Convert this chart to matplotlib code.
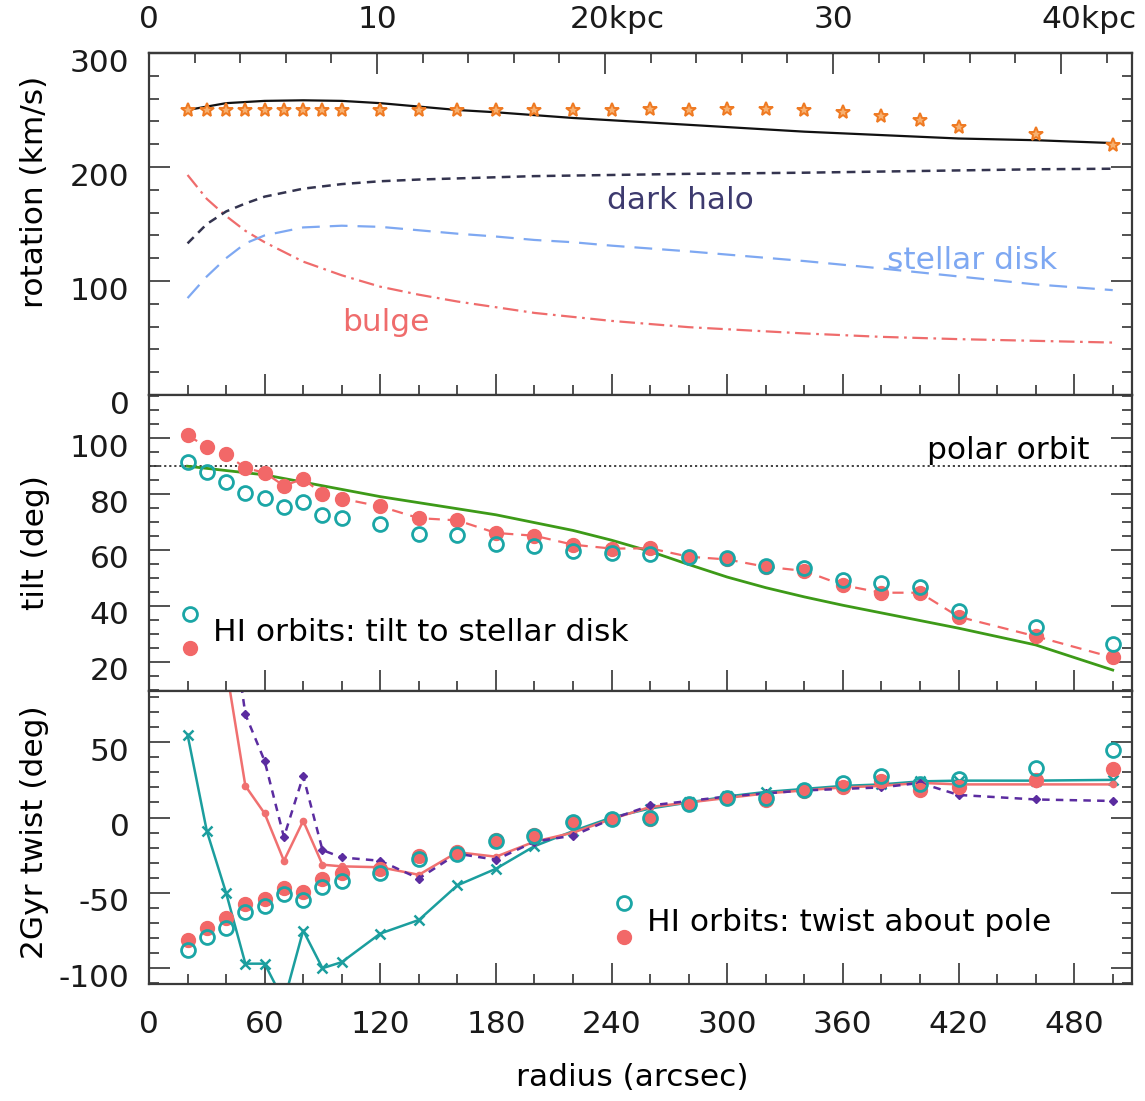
import numpy as np
import matplotlib
matplotlib.use('Agg')
import matplotlib.pyplot as plt
from matplotlib.ticker import MultipleLocator, FixedLocator, NullFormatter
from matplotlib.transforms import ScaledTranslation
from matplotlib.legend_handler import HandlerBase
from matplotlib.lines import Line2D

plt.rcParams['font.family'] = ['DejaVu Sans']
plt.rcParams['font.size'] = 22.5
plt.rcParams['axes.unicode_minus'] = False

ARCSEC_PER_KPC = 11.83

# ---- rotation panel ----
r_pts = [20, 30, 40, 50, 60, 70, 80, 90, 100, 120, 140, 160, 180, 200, 220,
         240, 260, 280, 300, 320, 340, 360, 380, 400, 420, 460, 500]
v_obs = [250, 250, 250, 250, 250, 250, 250, 250, 250, 250, 250, 250, 250, 250, 250,
         250, 251, 250, 251, 251, 250, 248, 245, 241, 235, 229, 219]

r_model = [20, 30, 40, 50, 60, 80, 100, 120, 140, 160, 180, 200, 220, 240,
           280, 340, 380, 420, 460, 500]
v_total = [250, 253, 256, 257, 258, 258.5, 258, 256, 253, 250, 248, 245.5, 243, 241,
           237, 231, 228, 225, 223.5, 221]
v_halo = [133, 150, 161, 168, 174, 181, 185, 187.5, 189, 190, 191, 192, 192.5, 193,
          194, 195, 196, 197, 198, 198.5]
v_disk = [85, 104, 120, 133, 140, 147, 148.5, 147.5, 144.5, 141.5, 139, 136, 134, 131,
          126, 117.5, 111, 104, 97, 92]
v_bulge = [193, 172, 157, 144, 134, 117, 105, 95, 88, 82, 77, 72, 68.5, 65,
           59.5, 54, 51, 49, 47.5, 46]

# ---- tilt panel ----
tilt_red = [101, 97, 94.4, 89.3, 87.7, 83, 85.5, 80, 78.4, 75.6, 71.4, 70.6, 66.1, 65.1, 61.9,
            60.5, 60.6, 57.6, 56.6, 54, 52.5, 47.4, 44.7, 44.7, 36.1, 29.1, 21.5]
tilt_cyan = [91.6, 88.1, 84.5, 80.4, 78.6, 75.4, 77.1, 72.6, 71.4, 69.3, 65.8, 65.5, 62.3, 61.5, 59.5,
             58.8, 58.5, 57.6, 57, 54.3, 53.4, 49.2, 48, 46.8, 38.2, 32.5, 26.3]
r_tilt_model = [20, 60, 120, 180, 220, 240, 260, 280, 300, 320, 340, 360, 420, 460, 500]
tilt_model = [90, 86.9, 79.1, 72.6, 67, 63.5, 59.5, 54.8, 50.3, 46.5, 43.2, 40.2, 32, 26, 17]

# ---- twist panel ----
twist_cyan = [-88, -79.5, -73, -63, -58.5, -51, -55, -46, -42, -36.5, -27.5, -24, -15.5, -12, -3,
              -1, 0, 9, 13, 13, 18, 23, 27.5, 22, 25.5, 33, 45]
twist_red = [-81.5, -73, -67, -57.5, -54, -46.5, -49.5, -41, -36.5, -34, -25.5, -23, -15, -11.5, -3,
             -1, -1, 9, 13, 11.5, 17.5, 20, 24, 18, 20, 25, 32]
twist_x = [55, -9, -50, -97, -97, -122, -75, -100, -96, -77, -68, -45, -34, -19, -9,
           0, 6, 10, 14, 17, 19, 21, 22, 24, 24.5, 24.5, 25]
r_line = r_pts[2:]
twist_redline = [100, 21, 2.7, -28.7, -2.2, -31.3, -32.4, -33, -38, -23, -26, -16, -10,
                 -1, 7, 10, 13, 16, 18, 20, 21, 23, 22, 22, 22]
twist_purple = [160, 68.5, 37.5, -13, 27.6, -21.6, -26.5, -28.7, -40.5, -24, -28, -16, -12,
                -1, 8, 11, 14, 16, 18, 19, 20, 23, 15, 12, 11]

C_CYAN = '#1ba6a6'
C_RED = '#f26868'
C_ORANGE = '#ef7a22'


class StackedHandler(HandlerBase):
    # two markers one above the other, text in between
    def create_artists(self, legend, orig_handle, xdescent, ydescent,
                       width, height, fontsize, trans):
        top, bot = orig_handle
        yc = height / 2 - ydescent
        out = []
        for h, dy in ((top, 0.52 * fontsize), (bot, -0.55 * fontsize)):
            m = Line2D([width / 2 - xdescent], [yc + dy], ls='none',
                       marker=h.get_marker(), ms=h.get_markersize(),
                       mfc=h.get_markerfacecolor(), mec=h.get_markeredgecolor(),
                       mew=h.get_markeredgewidth())
            m.set_transform(trans)
            out.append(m)
        return out


W, H = 1145, 1101
def box(x0, y0, x1, y1):
    return [x0 / W, 1 - y1 / H, (x1 - x0) / W, (y1 - y0) / H]

fig = plt.figure(figsize=(11.45, 11.01), dpi=100)
ax1 = fig.add_axes(box(149, 53, 1132, 395))
ax2 = fig.add_axes(box(149, 395, 1132, 691))
ax3 = fig.add_axes(box(149, 691, 1132, 984))

for ax in (ax1, ax2, ax3):
    ax.set_xlim(0, 510)
    ax.xaxis.set_major_locator(MultipleLocator(60))
    ax.xaxis.set_minor_locator(MultipleLocator(20))
    ax.tick_params(which='both', direction='in', top=False, right=True,
                   width=1.2, color='#333333', labelcolor='#1a1a1a')
    ax.tick_params(which='major', length=15, pad=14)
    ax.tick_params(which='minor', length=7)
    for s in ax.spines.values():
        s.set_linewidth(1.6)
        s.set_color('#3a3a3a')
for ax in (ax1, ax2):
    ax.xaxis.set_major_formatter(NullFormatter())
ax3.tick_params(axis='x', which='major', pad=19)

# top panel
ax1.set_ylim(0, 300)
ax1.yaxis.set_major_locator(MultipleLocator(100))
ax1.yaxis.set_minor_locator(MultipleLocator(20))
ax1.plot(r_model, v_bulge, color='#ef6c6c', lw=1.6, ls=(0, (7, 2.5, 1.2, 2.5)))
ax1.plot(r_model, v_disk, color='#7ea8f2', lw=1.6, ls=(0, (8, 4.5)))
ax1.plot(r_model, v_halo, color='#34344f', lw=1.8, ls=(0, (3.5, 2.5)))
ax1.plot(r_model, v_total, color='#111111', lw=1.6)
ax1.plot(r_pts, v_obs, ls='none', marker='*', ms=10, mfc='#f7b070', mec=C_ORANGE, mew=1.4)
ax1.text(275.5, 171, 'dark halo', color='#3d3a6e', ha='center', va='center')
ax1.text(427, 118, 'stellar disk', color='#7ea8f2', ha='center', va='center')
ax1.text(123, 64, 'bulge', color='#ef6c6c', ha='center', va='center')

secax = ax1.secondary_xaxis('top', functions=(lambda r: np.asarray(r) / ARCSEC_PER_KPC,
                                              lambda k: np.asarray(k) * ARCSEC_PER_KPC))
secax.xaxis.set_major_locator(FixedLocator([0, 10, 20, 30, 40]))
secax.xaxis.set_minor_locator(MultipleLocator(2))
secax.set_xticklabels(['0', '10', '20kpc', '30', '40kpc'])
secax.tick_params(which='both', direction='in', width=1.2, color='#333333', labelcolor='#1a1a1a')
secax.tick_params(which='major', length=15, pad=14)
secax.tick_params(which='minor', length=7)
secax.spines['top'].set_linewidth(1.6)

# middle panel
ax2.set_ylim(9.5, 115.5)
ax2.yaxis.set_major_locator(MultipleLocator(20))
ax2.yaxis.set_minor_locator(MultipleLocator(5))
ax2.axhline(90, color='#333333', lw=1.3, ls=(0, (1.2, 1.6)))
ax2.text(446, 95.8, 'polar orbit', ha='center', va='center')
ax2.plot(r_tilt_model, tilt_model, color='#3d9a18', lw=2)
h_red = ax2.plot(r_pts, tilt_red, color=C_RED, lw=1.6, ls=(0, (5, 3.5)),
                 marker='o', ms=10, mfc=C_RED, mec=C_RED)[0]
h_cyan = ax2.plot(r_pts, tilt_cyan, ls='none', marker='o', ms=10, mfc='none',
                  mec=C_CYAN, mew=2)[0]
ax2.legend([(h_cyan, h_red)], ['HI orbits: tilt to stellar disk'],
           handler_map={tuple: StackedHandler()}, loc='center left',
           bbox_to_anchor=(0.029, 0.196), frameon=False, borderpad=0,
           borderaxespad=0, handlelength=0.8, handletextpad=0.34)

# bottom panel
ax3.set_ylim(-110.5, 84)
ax3.yaxis.set_major_locator(MultipleLocator(50))
ax3.yaxis.set_minor_locator(MultipleLocator(10))
ax3.plot(r_pts, twist_x, color='#1b9e9e', lw=1.8, marker='x', ms=7, mew=1.8)
ax3.plot(r_line, twist_redline, color='#f07070', lw=1.8, marker='o', ms=4.5)
ax3.plot(r_line, twist_purple, color='#5b2ca0', lw=1.8, ls=(0, (3, 2.5)), marker='D', ms=4.5)
h_red3 = ax3.plot(r_pts, twist_red, ls='none', marker='o', ms=10, mfc=C_RED, mec=C_RED)[0]
h_cyan3 = ax3.plot(r_pts, twist_cyan, ls='none', marker='o', ms=10, mfc='none',
                   mec=C_CYAN, mew=2)[0]
ax3.legend([(h_cyan3, h_red3)], ['HI orbits: twist about pole'],
           handler_map={tuple: StackedHandler()}, loc='center left',
           bbox_to_anchor=(0.4705, 0.2116), frameon=False, borderpad=0,
           borderaxespad=0, handlelength=0.8, handletextpad=0.34)

# axis titles
fig.text(35 / W, 1 - 192 / H, 'rotation (km/s)', rotation=90, ha='center', va='center')
fig.text(35 / W, 1 - 543 / H, 'tilt (deg)', rotation=90, ha='center', va='center')
fig.text(35 / W, 1 - 832 / H, '2Gyr twist (deg)', rotation=90, ha='center', va='center')
fig.text(632 / W, 1 - 1078 / H, 'radius (arcsec)', ha='center', va='center')

# nudge labels like the original
fig.canvas.draw()
down = ScaledTranslation(0, -0.07, fig.dpi_scale_trans)
for ax in (ax1, ax2, ax3):
    for lab in ax.get_yticklabels():
        lab.set_transform(lab.get_transform() + down)
kpc_shift = {'20kpc': 0.12, '40kpc': 0.28}
for lab in secax.get_xticklabels():
    if lab.get_text() in kpc_shift:
        lab.set_transform(lab.get_transform() +
                          ScaledTranslation(kpc_shift[lab.get_text()], 0, fig.dpi_scale_trans))

fig.savefig('out.png', dpi=100)
